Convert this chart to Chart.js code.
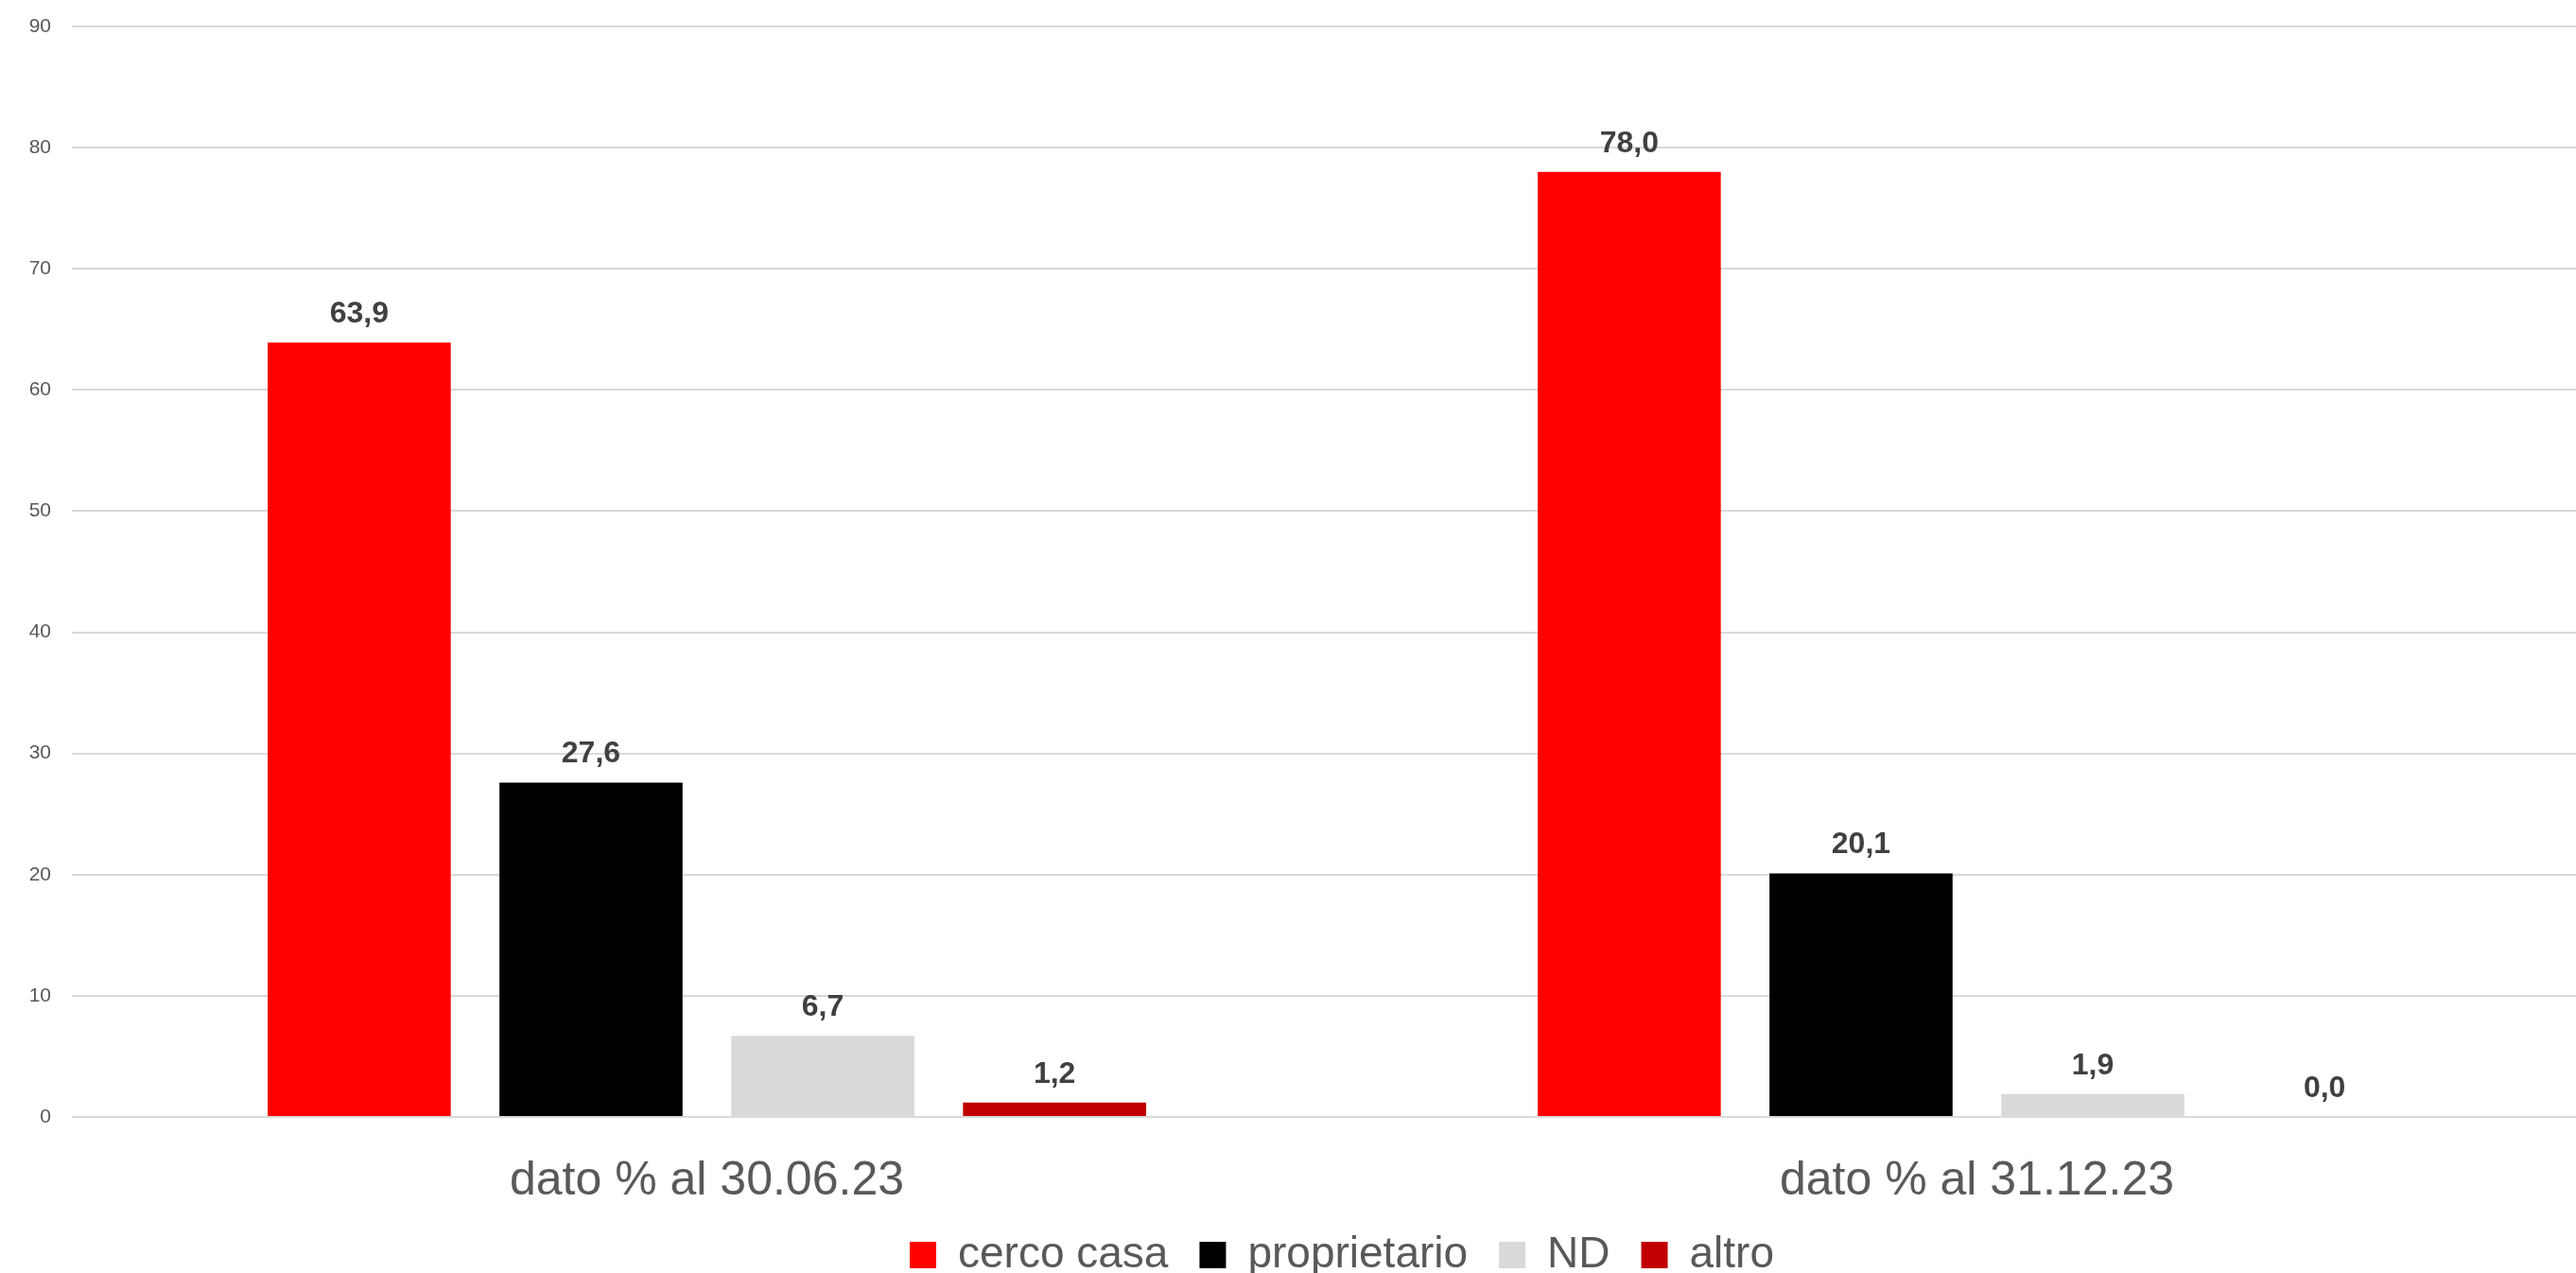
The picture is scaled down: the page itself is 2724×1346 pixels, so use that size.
<!DOCTYPE html>
<html>
<head>
<meta charset="utf-8">
<title>dato %</title>
<script src="https://cdn.jsdelivr.net/npm/chart.js@4/dist/chart.umd.min.js"></script>
<style>
  html, body { margin: 0; padding: 0; background: #ffffff; overflow: hidden; width: 2724px; height: 1346px; }
  #wrap { position: absolute; left: 0; top: 0; }
  canvas { display: block; }
</style>
</head>
<body>
<div id="wrap"><canvas id="chart" width="2762" height="1360"></canvas></div>
<script>
// Periods shown on the horizontal axis
const categories = ['dato % al 30.06.23', 'dato % al 31.12.23'];

// Series (percent values per period)
const seriesNames = ['cerco casa', 'proprietario', 'ND', 'altro'];
const cercoCasa    = [63.9, 78.0];
const proprietario = [27.6, 20.1];
const nd           = [6.7, 1.9];
const altro        = [1.2, 0.0];
const seriesColors = ['#ff0000', '#000000', '#d9d9d9', '#c00000'];

// Value axis ticks
const yTicks = [0, 10, 20, 30, 40, 50, 60, 70, 80, 90];

const seriesValues = [cercoCasa, proprietario, nd, altro];
const FONT = '"Liberation Sans", Arial, sans-serif';

// Writes each bar's value above it, Italian decimal comma
const valueLabels = {
  id: 'valueLabels',
  afterDatasetsDraw(chart) {
    const ctx = chart.ctx;
    ctx.save();
    ctx.font = 'bold 32px ' + FONT;
    ctx.fillStyle = '#404040';
    ctx.textAlign = 'center';
    ctx.textBaseline = 'alphabetic';
    chart.data.datasets.forEach((ds, di) => {
      const meta = chart.getDatasetMeta(di);
      meta.data.forEach((bar, i) => {
        const v = ds.data[i];
        const txt = v.toFixed(1).replace('.', ',');
        ctx.fillText(txt, bar.x, bar.y - 21);
      });
    });
    ctx.restore();
  }
};

const ctx = document.getElementById('chart').getContext('2d');
new Chart(ctx, {
  type: 'bar',
  data: {
    labels: categories,
    datasets: seriesNames.map((name, i) => ({
      label: name,
      data: seriesValues[i],
      backgroundColor: seriesColors[i],
      borderWidth: 0,
      categoryPercentage: 0.73,
      barPercentage: 0.79
    }))
  },
  options: {
    responsive: false,
    animation: false,
    devicePixelRatio: 1,
    layout: { padding: { top: 28, left: 29, right: 0, bottom: 0 } },
    plugins: {
      tooltip: { enabled: false },
      title: { display: false },
      legend: {
        position: 'bottom',
        fullSize: false,
        labels: {
          boxWidth: 28,
          boxHeight: 28,
          padding: 33,
          color: '#595959',
          font: { family: FONT, size: 46 }
        }
      }
    },
    scales: {
      x: {
        grid: { display: false },
        border: { display: false },
        afterFit(scale) { scale.height = 90; },
        ticks: {
          color: '#595959',
          padding: 35,
          maxRotation: 0,
          font: { family: FONT, size: 50, lineHeight: 1.0 }
        }
      },
      y: {
        min: yTicks[0],
        max: yTicks[yTicks.length - 1],
        afterBuildTicks(scale) { scale.ticks = yTicks.map(v => ({ value: v })); },
        afterFit(scale) { scale.width = 47; scale.paddingTop = 0; },
        border: { display: false },
        grid: { color: '#d9d9d9', lineWidth: 2, drawTicks: false },
        ticks: {
          color: '#595959',
          padding: 22,
          font: { family: FONT, size: 21 }
        }
      }
    }
  },
  plugins: [valueLabels]
});
</script>
</body>
</html>
